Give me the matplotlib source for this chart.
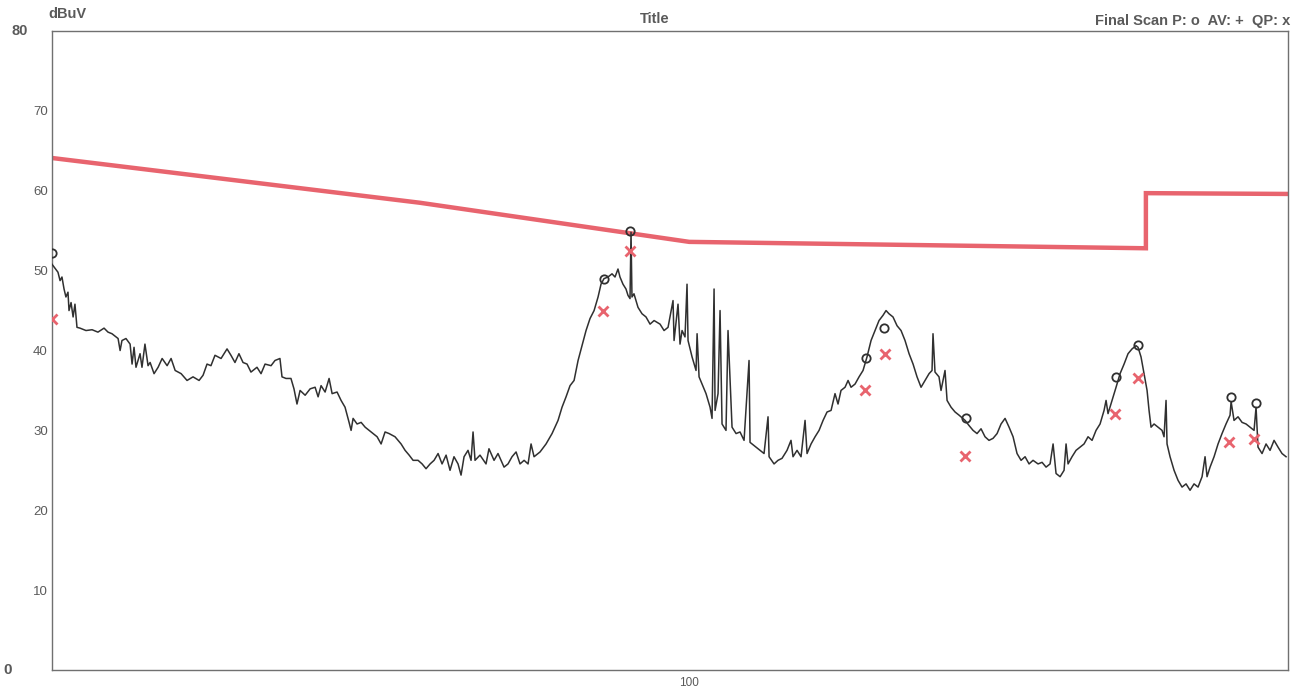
import matplotlib
matplotlib.use("Agg")
import matplotlib.pyplot as plt
import matplotlib.transforms as mtransforms
from matplotlib.ticker import NullLocator

# Final scan trace (frequency in MHz, level in dBuV)
trace_freq = [
    30.00, 30.34, 30.46, 30.57, 30.69, 30.80, 30.92, 30.98, 31.10, 31.22, 31.33, 31.45, 31.63, 31.99, 32.36, 32.72,
    33.10, 33.35, 33.60, 33.99, 34.12, 34.24, 34.50, 34.77, 34.90, 35.03, 35.16, 35.43, 35.56, 35.76, 35.97,
    36.11, 36.38, 36.66, 36.94, 37.29, 37.57, 37.86, 38.29, 38.72, 39.16, 39.61,
    39.91, 40.21, 40.51, 40.82, 41.29, 41.76, 42.07, 42.39, 42.71, 43.04, 43.37,
    43.69, 44.19, 44.53, 44.87, 45.38, 45.72, 46.15, 46.33, 46.68, 47.12, 47.39, 47.66,
    47.94, 48.40, 48.86, 49.32, 49.60, 49.88, 50.26, 50.64, 50.93, 51.41, 51.80, 52.19, 52.59,
    52.79, 52.99, 53.39, 53.80, 54.21, 54.82, 55.45, 55.87, 56.29, 56.72, 57.36,
    58.02, 58.46, 58.91, 59.35, 59.91, 60.37, 60.82, 61.29, 61.75, 62.22, 62.69, 63.17,
    63.64, 64.12, 64.61, 64.98, 65.35, 65.84, 66.22, 66.47, 66.72, 67.35, 68.12, 68.50, 69.16, 69.68,
    70.48, 71.01, 71.55, 72.10, 72.64, 73.20, 73.75, 74.17, 74.59, 75.44, 76.30,
    77.17, 78.05, 78.64, 79.24, 79.84, 80.45, 81.06, 81.67, 82.29, 82.91, 83.55, 84.18,
    84.65, 85.13, 85.77, 86.43, 86.92, 87.41, 87.74, 88.24, 88.74, 89.08, 89.42, 89.59, 89.75, 90.09, 90.78, 91.47, 92.16,
    92.87, 93.58, 94.64, 95.36, 96.08, 96.99, 97.18, 97.91, 98.28, 98.66, 99.21, 99.59, 99.78, 100.54, 101.30, 101.50, 101.88,
    102.46, 103.23, 104.02, 104.41, 104.81, 105.01, 105.60, 106.00, 106.40, 107.20, 107.61, 108.43, 109.26, 110.08, 110.92, 111.97,
    112.18, 113.46, 114.32, 115.19, 116.06, 116.29, 117.39, 118.27, 119.17, 120.30, 121.21, 121.67, 122.60,
    123.53, 124.47, 124.94, 125.89, 126.85, 127.81, 128.78, 129.75, 130.74, 131.72, 132.47, 133.22, 134.24, 135.01,
    135.77, 136.80, 137.84, 138.88, 139.93, 141.00, 142.07, 143.14, 144.22, 145.05, 145.86, 146.97, 148.10,
    149.22, 150.35, 151.50, 152.65, 153.80, 154.97, 156.15, 157.33, 158.22, 158.51, 159.11, 160.32, 160.93, 162.15, 162.78,
    164.01, 165.26, 166.52, 168.41, 169.69, 170.97, 172.26, 173.57, 174.88, 176.20, 177.55, 178.91,
    180.26, 181.63, 183.01, 184.40, 185.79, 187.21, 188.63, 190.05, 191.49, 193.31, 194.78, 196.26,
    197.75, 198.88, 200.00, 201.53, 203.05, 203.82, 204.59, 206.13, 207.70, 209.28, 210.86, 212.46, 214.08, 215.70,
    217.34, 218.99, 219.82, 220.64, 222.32, 224.01, 225.71, 227.43, 229.14, 230.88, 232.64, 233.51, 234.83, 236.17, 237.53, 238.42,
    239.32, 240.69, 242.50, 244.34, 245.27, 246.20, 246.66, 248.07, 249.96, 251.84, 253.75, 255.69, 257.62, 259.58, 261.54,
    263.54, 265.03, 266.03, 267.55, 269.58, 271.62, 273.67, 275.74, 277.85, 278.40, 279.95, 282.07, 284.23, 286.38,
    288.55, 290.74, 291.84, 292.93, 295.16, 297.41, 299.66, 301.94, 304.22, 306.52, 308.86,
]
trace_level = [
    50.8, 49.8, 48.75, 49.2, 47.7, 46.7, 47.3, 45.0, 46.0, 44.2, 45.8, 42.9, 42.8, 42.5, 42.6, 42.3,
    42.8, 42.3, 42.1, 41.5, 40.0, 41.25, 41.5, 40.8, 38.3, 40.4, 37.9, 39.6, 37.9, 40.8, 38.1,
    38.5, 37.1, 37.9, 39.0, 38.1, 39.0, 37.5, 37.1, 36.25, 36.7, 36.25,
    36.9, 38.3, 38.1, 39.4, 39.0, 40.2, 39.4, 38.5, 39.6, 38.5, 38.3,
    37.3, 37.9, 37.1, 38.3, 38.1, 38.75, 39.0, 36.7, 36.5, 36.5, 35.2, 33.3,
    35.0, 34.4, 35.2, 35.4, 34.2, 35.6, 34.8, 36.5, 34.6, 34.8, 33.75, 32.9, 31.0,
    30.0, 31.5, 30.8, 31.0, 30.4, 29.8, 29.2, 28.3, 29.8, 29.6, 29.2,
    28.3, 27.5, 26.9, 26.25, 26.25, 25.8, 25.2, 25.8, 26.25, 27.1, 25.8, 26.9,
    25.0, 26.7, 25.8, 24.4, 26.7, 27.5, 26.25, 29.8, 26.25, 26.9, 25.8, 27.7, 26.25, 27.1,
    25.4, 25.8, 26.7, 27.3, 25.8, 26.25, 25.8, 28.3, 26.7, 27.3, 28.3,
    29.6, 31.25, 32.9, 34.2, 35.6, 36.25, 38.75, 40.6, 42.5, 44.0, 45.0, 46.7,
    48.3, 49.0, 49.2, 49.6, 49.2, 50.2, 49.2, 48.3, 47.7, 46.9, 46.5, 54.8, 46.7, 47.1, 45.4, 44.6, 44.2,
    43.3, 43.75, 43.3, 42.5, 42.9, 46.25, 41.25, 45.8, 40.8, 42.5, 41.7, 48.3, 41.25, 39.2, 37.5, 42.1, 36.7,
    35.8, 34.6, 32.9, 31.5, 47.7, 32.5, 34.6, 45.0, 30.8, 30.0, 42.5, 30.4, 29.6, 29.8, 28.75, 38.75,
    28.5, 27.9, 27.5, 27.1, 31.7, 26.7, 25.8, 26.25, 26.5, 27.5, 28.75, 26.7, 27.5,
    26.7, 31.25, 27.1, 28.3, 29.2, 30.0, 31.25, 32.3, 32.5, 34.6, 33.3, 35.0, 35.4, 36.25,
    35.4, 35.8, 36.7, 37.5, 39.2, 41.25, 42.5, 43.75, 44.4, 45.0, 44.6, 44.2, 43.1,
    42.5, 41.25, 39.6, 38.3, 36.7, 35.4, 36.25, 37.1, 37.5, 42.1, 37.3, 36.7, 35.0, 37.5, 33.75,
    32.9, 32.3, 31.9, 31.25, 30.6, 30.0, 29.6, 30.2, 29.2, 28.75, 29.0, 29.6,
    30.8, 31.5, 30.4, 29.2, 27.1, 26.25, 26.7, 25.8, 26.25, 25.8, 26.0, 25.4,
    25.8, 28.3, 24.6, 24.2, 25.0, 28.3, 25.8, 26.7, 27.5, 27.9, 28.3, 29.2, 28.75, 30.0,
    30.8, 32.5, 33.75, 32.1, 33.75, 35.4, 37.1, 38.3, 39.6, 40.2, 40.6, 40.4, 39.2, 37.1, 35.0, 32.5,
    30.4, 30.8, 30.4, 30.0, 29.2, 33.75, 28.3, 26.7, 25.0, 23.75, 22.9, 23.3, 22.5, 23.3, 22.9,
    24.2, 26.7, 24.2, 25.4, 26.7, 28.3, 29.6, 30.8, 31.9, 33.6, 31.25, 31.7, 31.0, 30.8,
    30.4, 30.0, 32.9, 27.9, 27.1, 28.3, 27.5, 28.75, 27.9, 27.1, 26.7,
]

# Limit line
limit_freq = [30.0, 60.1, 100.0, 237.0, 237.0, 310.0]
limit_level = [64.1, 58.5, 53.6, 52.8, 59.7, 59.6]

# Peak (o) and quasi-peak (x) final scan points
peak_freq = [30.0, 85.13, 89.5, 139.67, 144.49, 168.73, 224.01, 233.51, 278.40, 291.84]
peak_level = [52.2, 49.0, 55.0, 39.0, 42.8, 31.6, 36.7, 40.7, 34.2, 33.4]
qp_freq = [30.0, 84.97, 89.42, 139.41, 144.76, 168.41, 223.59, 233.51, 277.33, 290.74]
qp_level = [44.0, 45.0, 52.4, 35.1, 39.6, 26.8, 32.1, 36.6, 28.6, 28.9]

y_ticks = [10, 20, 30, 40, 50, 60, 70]

GREY = "#5a5a5a"
RED = "#e8646e"

plt.rcParams['font.family'] = ['Liberation Sans', 'DejaVu Sans']

fig = plt.figure(figsize=(13.01, 6.88), dpi=100)
ax = fig.add_axes([52 / 1301, 1 - 670 / 688, 1236 / 1301, 639 / 688])

ax.plot(limit_freq, limit_level, color=RED, lw=3.2, solid_joinstyle='miter', zorder=2)
ax.plot(trace_freq, trace_level, color="#303030", lw=1.1, zorder=3)
ax.plot(peak_freq, peak_level, linestyle='none', marker='o', ms=6, mfc='none',
        mec="#303030", mew=1.3, zorder=4)
ax.plot(qp_freq, qp_level, linestyle='none', marker='x', ms=7, mec=RED, mew=2, zorder=4)

ax.set_xscale('log')
ax.set_xlim(30, 310)
ax.set_ylim(0, 80)

ax.set_xticks([100])
ax.set_xticklabels(['100'])
ax.xaxis.set_minor_locator(NullLocator())
ax.set_yticks(y_ticks)
ax.set_yticklabels([str(t) for t in y_ticks])
ax.tick_params(axis='y', length=0, pad=3, labelsize=9.5, labelcolor=GREY)
ax.tick_params(axis='x', length=0, pad=5, labelsize=8.5, labelcolor=GREY)

for sp in ax.spines.values():
    sp.set_color("#707070")
    sp.set_linewidth(1.0)

# 0 and 80 labels sit further out to the left
trans = mtransforms.blended_transform_factory(ax.transAxes, ax.transData)
ax.text(-0.026, 80, '80', transform=trans, ha='center', va='center',
        fontsize=10.5, fontweight='bold', color=GREY)
ax.text(-0.036, 0, '0', transform=trans, ha='center', va='center',
        fontsize=11, fontweight='bold', color=GREY)

fig.text(48 / 1301, 1 - 14 / 688, 'dBuV', ha='left', va='center',
         fontsize=10.5, fontweight='bold', color=GREY)
fig.text(655 / 1301, 1 - 19 / 688, 'Title', ha='center', va='center',
         fontsize=10.5, fontweight='bold', color=GREY)
fig.text(1290 / 1301, 1 - 21 / 688, 'Final Scan P: o  AV: +  QP: x', ha='right', va='center',
         fontsize=10.5, fontweight='bold', color=GREY)

fig.savefig('out.png', dpi=100)
